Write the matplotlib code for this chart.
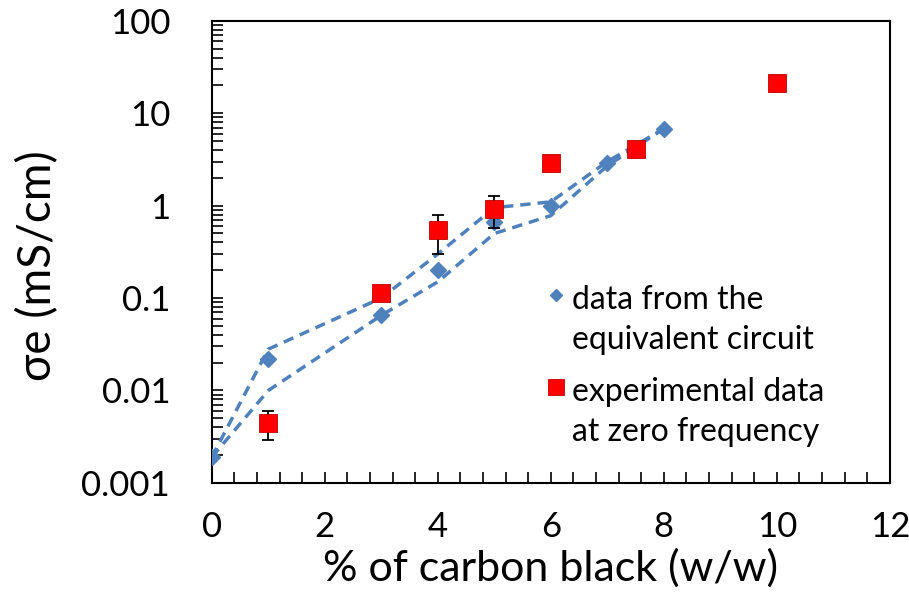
import matplotlib
matplotlib.use("Agg")
import matplotlib.pyplot as plt
from matplotlib.lines import Line2D
from matplotlib.legend_handler import HandlerLine2D
from matplotlib.ticker import FixedLocator, LogLocator, NullFormatter, MultipleLocator

plt.rcParams['font.family'] = ['Lato', 'DejaVu Sans']

# equivalent circuit data (diamonds) and its two dashed envelopes
circ_x = [0, 1, 3, 4, 5, 6, 7, 8]
circ_y = [0.0019, 0.022, 0.065, 0.20, 0.66, 0.99, 2.9, 6.8]
upper_y = [0.0019, 0.028, 0.10, 0.30, 0.95, 1.1, 3.0, 6.8]
lower_y = [0.0019, 0.010, 0.065, 0.15, 0.50, 0.78, 2.7, 6.8]

# experimental data at zero frequency (squares)
exp_x = [1, 3, 4, 5, 6, 7.5, 10]
exp_y = [0.0044, 0.114, 0.55, 0.92, 2.9, 4.1, 21]
exp_lo = [0.0029, 0.114, 0.30, 0.58, 2.9, 4.1, 21]
exp_hi = [0.0060, 0.114, 0.79, 1.26, 2.9, 4.1, 21]
err_idx = [0, 2, 3]

labels = ['data from the\nequivalent circuit', 'experimental data\nat zero frequency']

blue = '#4F81BD'
red = '#FF0000'


class FirstLineHandler(HandlerLine2D):
    # put the legend key next to the first line of a two-line label
    def create_artists(self, legend, orig_handle, xdescent, ydescent,
                       width, height, fontsize, trans):
        return super().create_artists(legend, orig_handle, xdescent,
                                      ydescent - 1.6 * fontsize, width,
                                      height, fontsize, trans)


fig = plt.figure(figsize=(9.09, 5.94), dpi=100)
ax = fig.add_axes([0.233, 0.187, 0.746, 0.778])

ax.plot(circ_x, upper_y, color=blue, lw=2.5, ls=(0, (3, 2)), zorder=2)
ax.plot(circ_x, lower_y, color=blue, lw=2.5, ls=(0, (3, 2)), zorder=2)
ax.plot(circ_x, circ_y, ls='none', marker='D', ms=8, color=blue, zorder=3)

ex = [exp_x[i] for i in err_idx]
ey = [exp_y[i] for i in err_idx]
elo = [exp_y[i] - exp_lo[i] for i in err_idx]
ehi = [exp_hi[i] - exp_y[i] for i in err_idx]
ax.errorbar(ex, ey, yerr=[elo, ehi], fmt='none', ecolor='black',
            elinewidth=1.3, capsize=4, capthick=1.3, zorder=4)
ax.plot(exp_x, exp_y, ls='none', marker='s', ms=12.5, color=red,
        markeredgecolor='#C00000', markeredgewidth=0.6, zorder=5)

ax.set_yscale('log')
ax.set_ylim(0.001, 100)
ax.set_xlim(0, 12)

yt = [0.001, 0.01, 0.1, 1, 10, 100]
ax.yaxis.set_major_locator(FixedLocator(yt))
ax.set_yticklabels(['0.001', '0.01', '0.1', '1', '10', '100'])
ax.yaxis.set_minor_locator(LogLocator(base=10, subs=range(2, 10)))
ax.yaxis.set_minor_formatter(NullFormatter())
ax.xaxis.set_major_locator(MultipleLocator(2))
ax.xaxis.set_minor_locator(MultipleLocator(0.4))

ax.tick_params(which='both', direction='in', length=8, width=1.2,
               labelsize=25, colors='black')
ax.tick_params(axis='x', which='both', pad=20)
ax.tick_params(axis='y', which='both', pad=30)
for s in ax.spines.values():
    s.set_linewidth(1.5)

ax.set_xlabel('% of carbon black (w/w)', fontsize=31, labelpad=4)
ax.set_ylabel('σe (mS/cm)', fontsize=33)
ax.yaxis.set_label_coords(-0.225, 0.47)

h1 = Line2D([], [], ls='none', marker='D', ms=6.5, color=blue)
h2 = Line2D([], [], ls='none', marker='s', ms=11, color=red,
            markeredgecolor='#C00000', markeredgewidth=0.6)
leg = ax.legend([h1, h2], labels, loc='upper left', bbox_to_anchor=(0.47, 0.455),
                frameon=False, fontsize=23, handletextpad=0.1,
                labelspacing=0.7, handlelength=0.8, borderaxespad=0,
                handler_map={Line2D: FirstLineHandler()})
for t in leg.get_texts():
    t.set_linespacing(1.4)

fig.savefig('out.png', dpi=100)
